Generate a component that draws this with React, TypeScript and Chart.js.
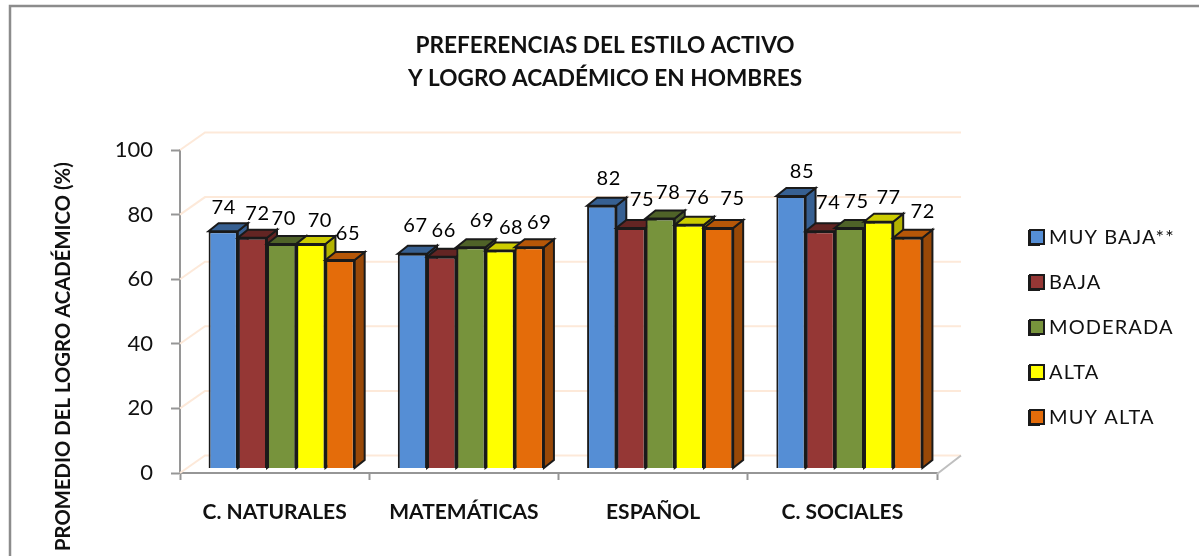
import React, { useEffect, useRef } from "react";
import { Chart, registerables } from "chart.js";

Chart.register(...registerables);

const categories = ["C. NATURALES", "MATEMÁTICAS", "ESPAÑOL", "C. SOCIALES"];
const seriesNames = ["MUY BAJA**", "BAJA", "MODERADA", "ALTA", "MUY ALTA"];
const muyBaja = [74, 67, 82, 85];
const baja = [72, 66, 75, 74];
const moderada = [70, 69, 78, 75];
const alta = [70, 68, 76, 77];
const muyAlta = [65, 69, 75, 72];
const seriesValues = [muyBaja, baja, moderada, alta, muyAlta];
const valueTicks = [0, 20, 40, 60, 80, 100];
const titleLines = ["PREFERENCIAS DEL ESTILO ACTIVO", "Y LOGRO ACADÉMICO EN HOMBRES"];
const axisTitle = "PROMEDIO DEL LOGRO ACADÉMICO (%)";

const frontColors = ["#558ED5", "#953735", "#77933C", "#FFFF00", "#E46C0A"];
const topColors = ["#376092", "#632523", "#4F6228", "#CCCC00", "#B65708"];
const sideColors = ["#376092", "#632523", "#4F6228", "#B3B300", "#984807"];
const ink = "#1a1a1a";
const axisGray = "#969696";
const gridPeach = "#FDE9D9";
const FONT = "Lato, Carlito, 'Noto Sans', sans-serif";

// label nudges (dx, dy from the top of each bar), series by category
const labelDx = [
  [0.5, 3, 7, 11],
  [5, 2, 11, 8],
  [2, 11, 8, 7],
  [9, 11, 8, 10],
  [8, 10, 14, 15],
];
const labelDy = [
  [-24, -28, -27, -25],
  [-24, -26, -29, -29],
  [-26, -27, -26, -27],
  [-24, -23, -27, -24],
  [-27, -25, -30, -26],
];

const DEPTH_X = 10;
const DEPTH_Y = 8;
const SHIFT_X = 7;
const WALL_X = 25;
const WALL_Y = 17.5;
const LEGEND_LEFT = 1004;
const LEGEND_TOP = 203;
const LEGEND_ROW = 45;

function poly(ctx: CanvasRenderingContext2D, pts: number[][], fill: string) {
  ctx.beginPath();
  pts.forEach(([x, y], i) => (i ? ctx.lineTo(x, y) : ctx.moveTo(x, y)));
  ctx.closePath();
  ctx.fillStyle = fill;
  ctx.fill();
  ctx.strokeStyle = ink;
  ctx.lineWidth = 2;
  ctx.stroke();
}

const scene = {
  id: "scene",
  afterLayout(chart: any) {
    const t = chart.titleBlock;
    t.left = 11;
    t.right = 1199;
    const l = chart.legend;
    l.left = LEGEND_LEFT;
    l.right = 1199;
    l.top = LEGEND_TOP;
    l.bottom = 556;
    if (!l.__wrapped) {
      l.__wrapped = true;
      const d = l.draw;
      l.draw = function (...a: any[]) {
        chart.ctx.letterSpacing = "1.1px";
        d.apply(l, a);
        chart.ctx.letterSpacing = "0px";
      };
    }
  },
  beforeDraw(chart: any) {
    const { ctx } = chart;
    ctx.save();
    ctx.fillStyle = "#fff";
    ctx.fillRect(0, 0, 1199, 556);
    ctx.strokeStyle = "#8c8c8c";
    ctx.lineWidth = 2.5;
    ctx.beginPath();
    ctx.moveTo(10, 556);
    ctx.lineTo(10, 6);
    ctx.lineTo(1199, 6);
    ctx.stroke();
    ctx.restore();
  },
  beforeDatasetsDraw(chart: any) {
    const { ctx, scales } = chart;
    const y = scales.y;
    const x = scales.x;
    ctx.save();
    // back wall and side wall lines
    ctx.lineWidth = 2;
    ctx.strokeStyle = gridPeach;
    valueTicks.forEach((v) => {
      const py = y.getPixelForValue(v);
      ctx.beginPath();
      ctx.moveTo(x.left, py);
      ctx.lineTo(x.left + WALL_X, py - WALL_Y);
      ctx.lineTo(x.right + 24, py - WALL_Y);
      ctx.stroke();
    });
    ctx.strokeStyle = "#BFBFBF";
    const floor = y.getPixelForValue(0);
    ctx.beginPath();
    ctx.moveTo(x.right, floor + 1);
    ctx.lineTo(x.right + 24, floor - WALL_Y);
    ctx.stroke();

    // bars painted left to right so each covers its neighbour's side face
    ctx.translate(SHIFT_X, 0);
    const metas = chart.data.datasets.map((_: any, i: number) => chart.getDatasetMeta(i));
    categories.forEach((_, c) => {
      metas.forEach((meta: any, s: number) => {
        const el = meta.data[c];
        const l = el.x - el.width / 2;
        const r = el.x + el.width / 2;
        const t = el.y;
        const b = el.base;
        poly(ctx, [[r, t], [r + DEPTH_X, t - DEPTH_Y], [r + DEPTH_X, b - DEPTH_Y], [r, b]], sideColors[s]);
        poly(ctx, [[l, t], [l + DEPTH_X, t - DEPTH_Y], [r + DEPTH_X, t - DEPTH_Y], [r, t]], topColors[s]);
        el.draw(ctx);
      });
    });
    ctx.restore();
    return false;
  },
  afterDraw(chart: any) {
    const { ctx } = chart;
    ctx.save();
    // value labels above the bars
    ctx.font = `20px ${FONT}`;
    ctx.fillStyle = "#000";
    ctx.textAlign = "center";
    ctx.textBaseline = "middle";
    ctx.letterSpacing = "0.6px";
    seriesValues.forEach((vals, s) => {
      const meta = chart.getDatasetMeta(s);
      vals.forEach((v, c) => {
        const el = meta.data[c];
        ctx.fillText(String(v), el.x + SHIFT_X + labelDx[s][c], el.y + labelDy[s][c]);
      });
    });
    ctx.letterSpacing = "0px";

    // legend swatches at full width over the library's narrower keys
    const items = chart.legend.legendItems || [];
    items.forEach((it: any, i: number) => {
      const top = 230 + i * LEGEND_ROW;
      ctx.fillStyle = it.fillStyle;
      ctx.strokeStyle = ink;
      ctx.lineWidth = 2;
      ctx.beginPath();
      ctx.rect(1030, top, 14, 14);
      ctx.fill();
      ctx.stroke();
    });

    // rotated axis title, anchored below the plot as in the reference
    ctx.translate(63, 551);
    ctx.rotate(-Math.PI / 2);
    ctx.font = `bold 20.3px ${FONT}`;
    ctx.textAlign = "left";
    ctx.fillStyle = "#111";
    ctx.fillText(axisTitle, 0, 0);
    ctx.restore();
  },
};

export default function App() {
  const ref = useRef<HTMLCanvasElement>(null);
  useEffect(() => {
    document.body.style.margin = "0";
    const chart = new Chart(ref.current as HTMLCanvasElement, {
      type: "bar",
      data: {
        labels: categories,
        datasets: seriesNames.map((name, i) => ({
          label: name,
          data: seriesValues[i],
          yAxisID: "y2",
          backgroundColor: frontColors[i],
          borderColor: ink,
          borderWidth: 2,
          categoryPercentage: 0.772,
          barPercentage: 1,
        })),
      },
      options: {
        animation: false,
        responsive: false,
        devicePixelRatio: 1,
        layout: { padding: { left: 0, right: 262, top: 0, bottom: 0 } },
        plugins: {
          title: {
            display: true,
            text: titleLines,
            color: "#111",
            font: { family: FONT, size: 22.6, weight: "bold", lineHeight: 33 / 22.6 },
            padding: { top: 29, bottom: 55 },
          },
          legend: {
            position: "chartArea" as any,
            align: "start",
            labels: {
              boxWidth: 10,
              boxHeight: 14,
              padding: 25,
              color: "#111",
              font: { family: FONT, size: 20, lineHeight: 1.2 },
            },
          },
          tooltip: { enabled: false },
        },
        scales: {
          x: {
            grid: {
              drawOnChartArea: false,
              offset: true,
              color: axisGray,
              tickColor: axisGray,
              tickWidth: 2,
              tickLength: 7,
            },
            border: { color: axisGray, width: 2 },
            ticks: {
              color: "#111",
              padding: 20,
              maxRotation: 0,
              font: { family: FONT, size: 21, weight: "bold" },
            },
            afterFit(s: any) {
              s.height = 83;
            },
          },
          y: {
            min: 0,
            max: 100,
            grid: {
              drawOnChartArea: false,
              color: axisGray,
              tickColor: axisGray,
              tickWidth: 2,
              tickLength: 9,
            },
            border: { color: axisGray, width: 2 },
            ticks: {
              stepSize: 20,
              color: "#111",
              padding: 18,
              font: { family: FONT, size: 22 },
            },
            afterFit(s: any) {
              s.width = 180;
            },
          },
          y2: { display: false, min: -1.56, max: 99.4 },
        },
      },
      plugins: [scene],
    } as any);
    return () => chart.destroy();
  }, []);
  return <canvas ref={ref} width={1199} height={556} style={{ display: "block" }} />;
}
